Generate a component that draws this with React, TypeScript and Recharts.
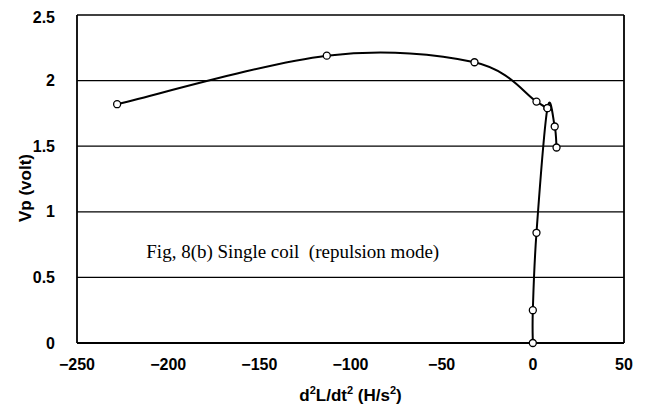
import React from 'react';
import {
  ComposedChart,
  Line,
  XAxis,
  YAxis,
  CartesianGrid,
  ReferenceLine,
  ReferenceDot,
} from 'recharts';

// ---- data ----
const upperX = [-228, -113, -32, 2, 8];
const upperY = [1.82, 2.19, 2.14, 1.84, 1.79];
const lowerX = [0, 0, 2, 8, 12, 13];
const lowerY = [0, 0.25, 0.84, 1.79, 1.65, 1.49];
const xTicks = [-250, -200, -150, -100, -50, 0, 50];
const yTicks = [0, 0.5, 1, 1.5, 2, 2.5];
const noteText = 'Fig, 8(b) Single coil\u00a0\u00a0(repulsion mode)';
const noteX = -212;
const noteY = 0.7;

const upper = upperX.map((x, i) => ({ x, y: upperY[i] }));
const lower = lowerX.map((x, i) => ({ x, y: lowerY[i] }));

// Catmull-Rom style smoothing (similar to spreadsheet "smoothed line")
const smoothCurve: any = (context: any) => {
  let pts: number[][] = [];
  return {
    areaStart() {},
    areaEnd() {},
    lineStart() {
      pts = [];
    },
    point(x: number, y: number) {
      pts.push([+x, +y]);
    },
    lineEnd() {
      if (!pts.length) return;
      context.moveTo(pts[0][0], pts[0][1]);
      const t = 1 / 6;
      for (let i = 0; i < pts.length - 1; i++) {
        const p0 = pts[i - 1] || pts[i];
        const p1 = pts[i];
        const p2 = pts[i + 1];
        const p3 = pts[i + 2] || p2;
        context.bezierCurveTo(
          p1[0] + (p2[0] - p0[0]) * t,
          p1[1] + (p2[1] - p0[1]) * t,
          p2[0] - (p3[0] - p1[0]) * t,
          p2[1] - (p3[1] - p1[1]) * t,
          p2[0],
          p2[1]
        );
      }
    },
  };
};

const SANS = '"Liberation Sans", Arial, Helvetica, sans-serif';
const SERIF = '"Liberation Serif", "Times New Roman", serif';

const fmt = (v: number) => String(v).replace('-', '\u2212');

const XTitle = (props: any) => {
  const vb = props.viewBox || {};
  const cx = vb.x + vb.width / 2;
  const y = vb.y + 58;
  return (
    <text x={cx} y={y} textAnchor="middle" fontFamily={SANS} fontSize={17} fontWeight="bold" fill="#000">
      d<tspan dy={-7} fontSize={11}>2</tspan>
      <tspan dy={7}>L/dt</tspan>
      <tspan dy={-7} fontSize={11}>2</tspan>
      <tspan dy={7}>{' (H/s'}</tspan>
      <tspan dy={-7} fontSize={11}>2</tspan>
      <tspan dy={7}>)</tspan>
    </text>
  );
};

const YTitle = (props: any) => {
  const vb = props.viewBox || {};
  const cx = vb.x + 17;
  const cy = vb.y + vb.height / 2 + 9;
  return (
    <text
      x={cx}
      y={cy}
      textAnchor="middle"
      dominantBaseline="central"
      transform={`rotate(-90, ${cx}, ${cy})`}
      fontFamily={SANS}
      fontSize={17}
      fontWeight="bold"
      fill="#000"
    >
      Vp (volt)
    </text>
  );
};

const dotStyle = { r: 3.5, fill: '#fff', stroke: '#000', strokeWidth: 1.3 };

export default function App() {
  return (
    <div style={{ width: 632, height: 400, background: '#fff' }}>
      <ComposedChart width={632} height={400} margin={{ top: 7, right: 16, left: 0, bottom: 5 }}>
        <CartesianGrid vertical={false} stroke="#000" strokeWidth={1.3} />
        <XAxis
          type="number"
          dataKey="x"
          domain={[-250, 50]}
          ticks={xTicks}
          tickFormatter={fmt}
          height={60}
          tickLine={false}
          tickSize={0}
          tickMargin={16}
          axisLine={{ stroke: '#000', strokeWidth: 1.8 }}
          tick={{ fill: '#000', fontFamily: SANS, fontSize: 16, fontWeight: 'bold' }}
          label={<XTitle />}
        />
        <YAxis
          type="number"
          domain={[0, 2.5]}
          ticks={yTicks}
          width={69}
          tickLine={false}
          tickSize={0}
          tickMargin={22}
          axisLine={{ stroke: '#000', strokeWidth: 1.8 }}
          tick={{ fill: '#000', fontFamily: SANS, fontSize: 16, fontWeight: 'bold' }}
          label={<YTitle />}
        />
        <ReferenceLine x={50} stroke="#000" strokeWidth={1.8} />
        <ReferenceDot
          x={noteX}
          y={noteY}
          r={0}
          fill="none"
          stroke="none"
          label={{
            value: noteText,
            position: 'right',
            offset: 0,
            fill: '#000',
            fontFamily: SERIF,
            fontSize: 19,
          }}
        />
        <Line
          data={upper}
          dataKey="y"
          type={smoothCurve}
          stroke="#000"
          strokeWidth={2}
          dot={dotStyle}
          activeDot={false}
          isAnimationActive={false}
        />
        <Line
          data={lower}
          dataKey="y"
          type={smoothCurve}
          stroke="#000"
          strokeWidth={2}
          dot={dotStyle}
          activeDot={false}
          isAnimationActive={false}
        />
      </ComposedChart>
    </div>
  );
}
